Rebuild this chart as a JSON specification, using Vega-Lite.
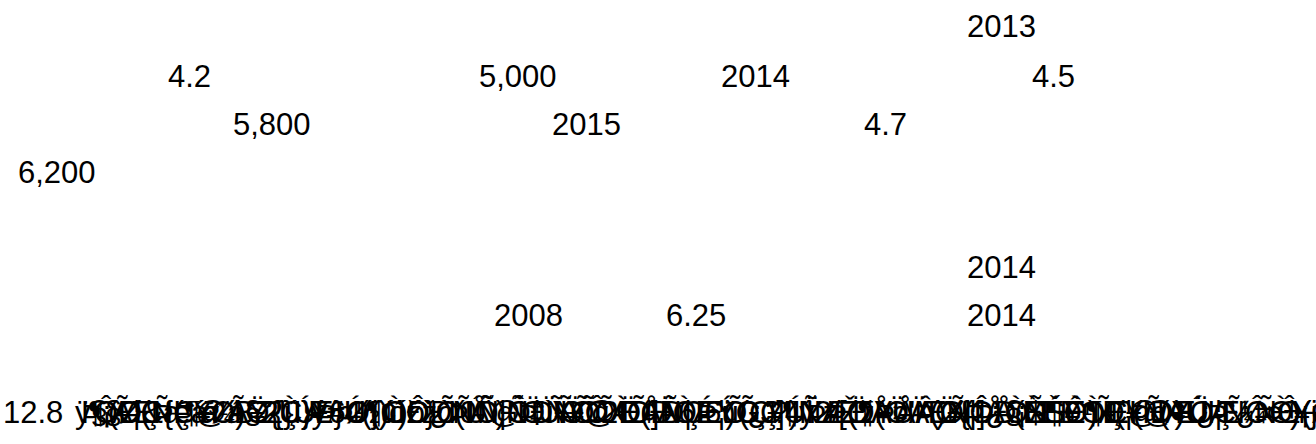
{
  "$schema": "https://vega.github.io/schema/vega-lite/v6.json",
  "width": 1316,
  "height": 444,
  "autosize": {"type": "none"},
  "padding": 0,
  "background": "white",
  "config": {"view": {"stroke": null}},
  "data": {
    "values": [
      {"label": "2013", "col": 967, "row": 37},
      {"label": "4.2", "col": 168, "row": 87},
      {"label": "5,000", "col": 479, "row": 87},
      {"label": "2014", "col": 721, "row": 87},
      {"label": "4.5", "col": 1032, "row": 87},
      {"label": "5,800", "col": 233, "row": 135},
      {"label": "2015", "col": 552, "row": 135},
      {"label": "4.7", "col": 864, "row": 135},
      {"label": "6,200", "col": 18, "row": 183},
      {"label": "2014", "col": 967, "row": 278},
      {"label": "2008", "col": 494, "row": 326},
      {"label": "6.25", "col": 666, "row": 326},
      {"label": "2014", "col": 967, "row": 326},
      {"label": "12.8", "col": 3, "row": 423},
      {"label": "ÿ§(Ø&{Ç@á§2Ù)ý#4(j)óžžò(Ú\\)Ñ‡ìÑÕ2ÌÕ]ÑÇ6ü(Ç?)ý2/Žž(Ö'Â)¥(ÞÐ¡$ŠÊ¶Ð¦(@)ÚÞ¼=+)¡j(¨/¹2 6¥(Ä,(ÔÐ¥Ð)Ô¢ÓÐ){Ó¦Þ¡+", "col": 75, "row": 423},
      {"label": "Þ¡Ã¦Çæá¾BZ{ú}¥6Ø(ú)ó}Õ0Ñ¬ÞÜÖ@Ö¢Ä6ÉÝGJ]4Ÿz[ÖÅ¤Ä(ØÞÅ§ÈÉ¥ÒÇ@(¢ÚÆ¼¤±¬Þ£Ö/)¦¶Ä¤ÒÖÖ¦ÕÝ{ÑÝ]Õ¶ÞÈ¼(Ö¤ÓÐÆ)Æ{¢Ò", "col": 81, "row": 423},
      {"label": "¶§ÆÞ(¶ä¹Ã¥2}ÚÞ¤½¢íÔÐÑÕ¦ÔÐ¥ÕÕÐÅÐ|ÆÕ¿¥ÚÞÞ(¶ÞÅÆÑ¦]¿ÒÆÐ¹Ñ(¥ÑÆ¿¦ÑÔÒ¥¢(ÚÞ{ÞÅÐ@ÔÆ}¿¦¥Ñ¿ÐÆ¶Ò(¥ÔÞ¥Ò¶", "col": 88, "row": 423},
      {"label": "ÔÐ(ÑÞ¥Ø)Ö{ÇÆ}Ú¶ÒÐ¿ÞÅ@ÖÑ¥ÔÆ(ÐÒÞ¦)ÕÇ¶ÑÆÐ¥ÚÞÖ{ÔÅ(Ñ¶Ò)ÆÞÐ¥ÖÇ¿ÑÔ(ÆÞ¦Ò)Ð¥ÚÑ{ÖÅ@ÞÆ(Ô¶Ð)ÑÒ¥ÆÞÖ¿ÇÐ", "col": 94, "row": 423}
    ]
  },
  "mark": {"type": "text", "align": "left", "baseline": "alphabetic", "font": "Liberation Sans", "fontSize": 31, "color": "black"},
  "encoding": {
    "x": {"field": "col", "type": "quantitative", "scale": {"domain": [0, 1316], "range": [0, 1316]}, "axis": null},
    "y": {"field": "row", "type": "quantitative", "scale": {"domain": [0, 444], "range": [0, 444]}, "axis": null},
    "text": {"field": "label"}
  }
}
